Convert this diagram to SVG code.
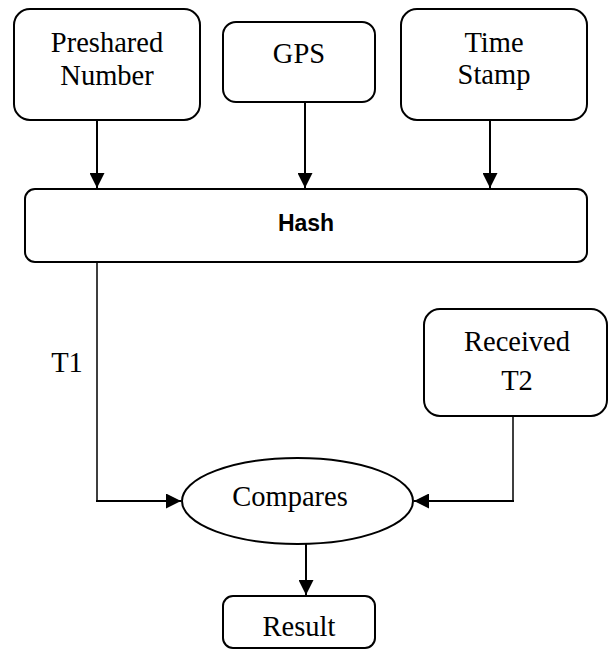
<svg xmlns="http://www.w3.org/2000/svg" width="609" height="650" viewBox="0 0 609 650">
<style>
.box{fill:#fff;stroke:#000;stroke-width:2}
.t{font-family:"Liberation Serif","Times New Roman",serif;font-size:28.5px;fill:#000;text-anchor:middle}
.b{font-family:"Liberation Sans",Arial,sans-serif;font-size:23px;font-weight:bold;fill:#000;text-anchor:middle}
.c{fill:none;stroke:#000;stroke-width:2}
.thin{fill:none;stroke:#000;stroke-width:1.5}
</style>
<defs>
<marker id="ah" markerUnits="userSpaceOnUse" markerWidth="15" markerHeight="15" viewBox="0 0 14 14" refX="14" refY="7" orient="auto">
<path d="M0,0 L14,7 L0,14 Z" fill="#000"/>
</marker>
</defs>
<rect width="609" height="650" fill="#fff"/>
<g id="connectors">
<line class="c" x1="97" y1="120" x2="97" y2="188" marker-end="url(#ah)"/>
<line class="c" x1="305" y1="102" x2="305" y2="188" marker-end="url(#ah)"/>
<line class="c" x1="490" y1="120" x2="490" y2="188" marker-end="url(#ah)"/>
<polyline class="thin" points="97,262 97,501 120,501"/>
<line class="c" x1="96" y1="501" x2="181" y2="501" marker-end="url(#ah)"/>
<polyline class="thin" points="513,416 513,501 490,501"/>
<line class="c" x1="514" y1="501" x2="414" y2="501" marker-end="url(#ah)"/>
<line class="c" x1="306" y1="544" x2="306" y2="595" marker-end="url(#ah)"/>
<text class="t" x="67" y="372">T1</text>
</g>
<g id="preshared">
<rect class="box" x="14" y="9" width="186" height="111" rx="16"/>
<text class="t" x="107" y="52">Preshared</text>
<text class="t" x="107" y="85">Number</text>
</g>
<g id="gps">
<rect class="box" x="223" y="22" width="152" height="80" rx="13"/>
<text class="t" x="299" y="63">GPS</text>
</g>
<g id="timestamp">
<rect class="box" x="401" y="9" width="186" height="111" rx="16"/>
<text class="t" x="494" y="52">Time</text>
<text class="t" x="494" y="84">Stamp</text>
</g>
<g id="hash">
<rect class="box" x="25" y="189" width="562" height="73" rx="10"/>
<text class="b" x="306" y="231">Hash</text>
</g>
<g id="received">
<rect class="box" x="424" y="309" width="183" height="107" rx="16"/>
<text class="t" x="517" y="351">Received</text>
<text class="t" x="517" y="390">T2</text>
</g>
<g id="compares">
<ellipse class="box" cx="297.5" cy="501" rx="115.5" ry="43"/>
<text class="t" x="290" y="506">Compares</text>
</g>
<g id="result">
<rect class="box" x="223" y="596" width="152" height="52" rx="10"/>
<text class="t" x="299" y="636">Result</text>
</g>
</svg>
